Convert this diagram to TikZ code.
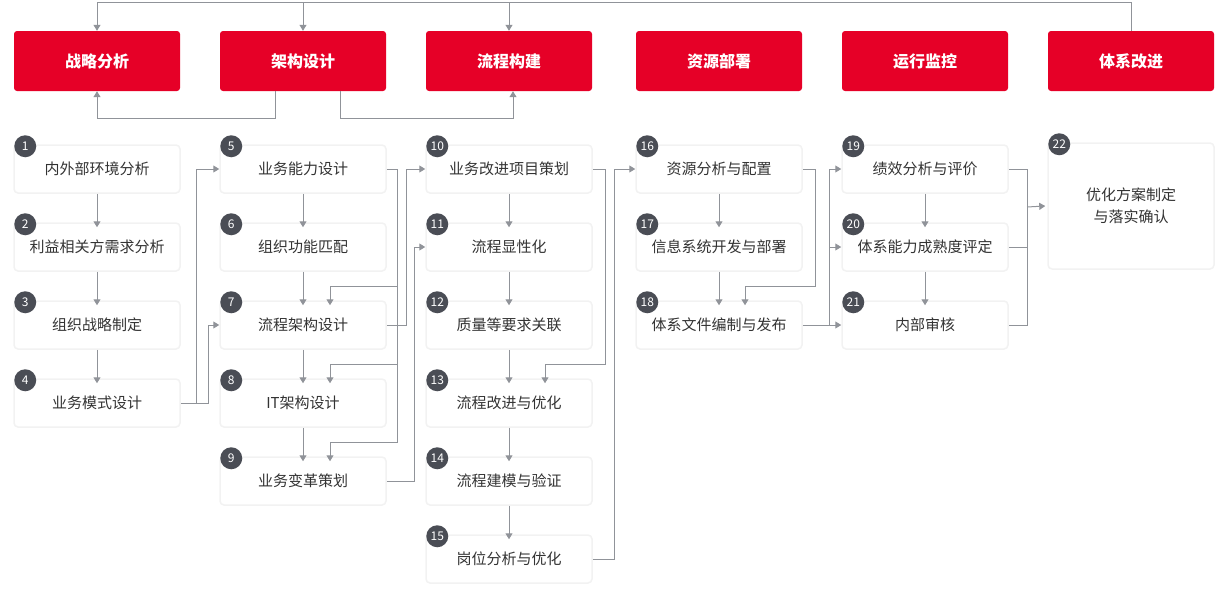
\documentclass[tikz,border=0pt]{standalone}
\usepackage{fontspec}
\setmainfont{Noto Sans CJK SC}
\usetikzlibrary{arrows.meta,calc}
\definecolor{hred}{HTML}{E60027}
\definecolor{lnc}{HTML}{909399}
\definecolor{numc}{HTML}{4A4D55}
\definecolor{txt}{HTML}{333333}
\begin{document}
\begin{tikzpicture}[x=1pt,y=-1pt,
 head/.style={fill=hred,rounded corners=3pt,minimum width=166pt,minimum height=60pt,text=white,font=\fontsize{16}{18}\selectfont\bfseries,inner sep=0pt},
 item/.style={fill=white,draw=black!5,line width=1.5pt,rounded corners=4pt,minimum width=166pt,minimum height=48pt,text=txt,font=\fontsize{15}{22}\selectfont,inner sep=0pt,align=center},
 num/.style={circle,fill=numc,text=white,minimum size=22pt,inner sep=0pt,font=\fontsize{12}{12}\selectfont},
 ln/.style={draw=lnc,line width=1pt},
 ar/.style={ln,-{Triangle[width=7pt,length=6pt]}}]
\useasboundingbox (0,0) rectangle (1228,597);
% headers
\node[head] (h1) at (97,61) {战略分析};
\node[head] (h2) at (303,61) {架构设计};
\node[head] (h3) at (509,61) {流程构建};
\node[head] (h4) at (719,61) {资源部署};
\node[head] (h5) at (925,61) {运行监控};
\node[head] (h6) at (1131,61) {体系改进};
% items
\foreach \n/\x/\y/\t in {1/97/169/内外部环境分析,2/97/247/利益相关方需求分析,3/97/325/组织战略制定,4/97/403/业务模式设计,
 5/303/169/业务能力设计,6/303/247/组织功能匹配,7/303/325/流程架构设计,8/303/403/IT架构设计,9/303/481/业务变革策划,
 10/509/169/业务改进项目策划,11/509/247/流程显性化,12/509/325/质量等要求关联,13/509/403/流程改进与优化,14/509/481/流程建模与验证,15/509/559/岗位分析与优化,
 16/719/169/资源分析与配置,17/719/247/信息系统开发与部署,18/719/325/体系文件编制与发布,
 19/925/169/绩效分析与评价,20/925/247/体系能力成熟度评定,21/925/325/内部审核}{
 \node[item] (n\n) at (\x,\y) {\t};
}
\node[item,minimum height=126pt] (n22) at (1131,206) {优化方案制定\\与落实确认};
\foreach \n in {1,...,22}{\node[num] (c\n) at ($(n\n.north west)+(12,2)$) {\n};}
% top connectors
\draw[ln] (h6.north) -- (1131,2) -- (97,2);
\draw[ar] (97,2) -- (h1.north);
\draw[ar] (303,2) -- (h2.north);
\draw[ar] (509,2) -- (h3.north);
\draw[ar] ([xshift=-28pt]h2.south) |- (97,118) -- (h1.south);
\draw[ar] ([xshift=37pt]h2.south) |- (513,118) -- ([xshift=4pt]h3.south);
% vertical chains
\foreach \a/\b in {1/2,2/3,3/4,5/6,6/7,7/8,8/9,10/11,11/12,12/13,13/14,14/15,16/17,17/18,19/20,20/21}{
 \draw[ar] (n\a.south) -- ([yshift=-5pt]n\b.north);
}
% cross links
\draw[ar] (n4.east) -- (196,403) |- (n5.west);
\draw[ar] (196,403) -- (208,403) |- (n7.west);
\draw[ar] (n5.east) -- (397,169) -- (397,442) -| ([xshift=27pt,yshift=-5pt]n9.north);
\draw[ar] (397,286) -| ([xshift=27pt,yshift=-5pt]n7.north);
\draw[ar] (397,364) -| ([xshift=27pt,yshift=-5pt]n8.north);
\draw[ar] (n7.east) -- (406,325) |- (n10.west);
\draw[ar] (n9.east) -- (414,481) |- (n11.west);
\draw[ar] (n10.east) -- (605,169) -- (605,364) -| ([xshift=36pt,yshift=-5pt]n13.north);
\draw[ar] (n15.east) -- (614,559) |- (n16.west);
\draw[ar] (n16.east) -- (815,169) -- (815,286) -| ([xshift=26pt,yshift=-5pt]n18.north);
\draw[ar] (n18.east) -- (n21.west);
\draw[ar] (829,325) |- (n19.west);
\draw[ar] (829,247) -- (n20.west);
\draw[ln] (n19.east) -- (1027,169) -- (1027,325) -- (n21.east);
\draw[ln] (n20.east) -- (1027,247);
\draw[ar] (1027,207) -- ([xshift=-2pt]n22.west);
\end{tikzpicture}
\end{document}
